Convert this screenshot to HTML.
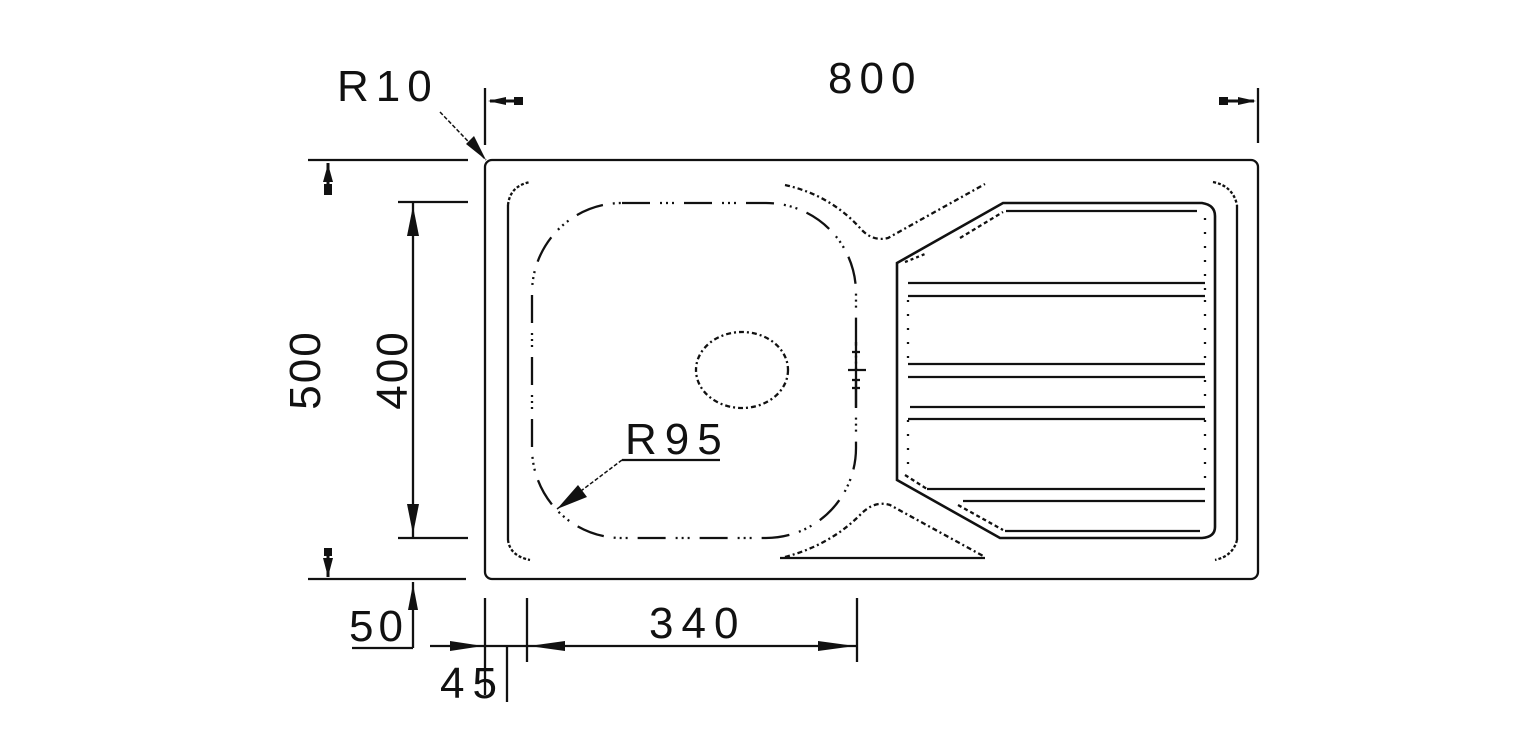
<!DOCTYPE html>
<html><head><style>html,body{margin:0;padding:0;background:#fff}svg{display:block}</style></head>
<body>
<svg width="1522" height="744" viewBox="0 0 1522 744" xmlns="http://www.w3.org/2000/svg" font-family="Liberation Sans, Arial, sans-serif" fill="none" stroke="#111" stroke-width="2.3">
<!-- text -->
<g fill="#111" stroke="none" font-size="44">
<text x="337" y="101" letter-spacing="7">R10</text>
<text x="828" y="93" letter-spacing="7">800</text>
<text x="625" y="454" letter-spacing="8">R95</text>
<text x="649" y="638" letter-spacing="8">340</text>
<text x="349" y="641" letter-spacing="5">50</text>
<text x="440" y="698" letter-spacing="8">45</text>
<text transform="translate(320,370) rotate(-90)" text-anchor="middle" letter-spacing="2">500</text>
<text transform="translate(407,370) rotate(-90)" text-anchor="middle" letter-spacing="2">400</text>
</g>
<!-- 800 dim -->
<line x1="485" y1="88" x2="485" y2="145"/>
<line x1="1258" y1="88" x2="1258" y2="143"/>
<line x1="490" y1="101" x2="522" y2="101" stroke-width="3"/>
<polygon points="488,101 506,97 506,105" fill="#111" stroke="none"/>
<rect x="514" y="97" width="9" height="8" fill="#111" stroke="none"/>
<line x1="1220" y1="101" x2="1254" y2="101" stroke-width="3"/>
<polygon points="1256,101 1238,97 1238,105" fill="#111" stroke="none"/>
<rect x="1219" y="97" width="9" height="8" fill="#111" stroke="none"/>
<!-- R10 leader -->
<line x1="440" y1="112" x2="486" y2="160" stroke-width="1.5" stroke-dasharray="4,2"/>
<polygon points="486,160 466,144 474,136" fill="#111" stroke="none"/>
<!-- left dims -->
<line x1="308" y1="160" x2="468" y2="160"/>
<line x1="308" y1="579" x2="466" y2="579"/>
<line x1="398" y1="202" x2="468" y2="202"/>
<line x1="398" y1="538" x2="468" y2="538"/>
<line x1="413" y1="202" x2="413" y2="538"/>
<polygon points="413,206 407,236 419,236" fill="#111" stroke="none"/>
<polygon points="413,534 407,504 419,504" fill="#111" stroke="none"/>
<line x1="328" y1="163" x2="328" y2="195" stroke-width="3"/>
<polygon points="328,164 323,182 333,182" fill="#111" stroke="none"/>
<rect x="324" y="184" width="8" height="11" fill="#111" stroke="none"/>
<line x1="328" y1="548" x2="328" y2="577" stroke-width="3"/>
<polygon points="328,577 323,558 333,558" fill="#111" stroke="none"/>
<rect x="324" y="548" width="8" height="8" fill="#111" stroke="none"/>
<line x1="413" y1="582" x2="413" y2="648"/>
<polygon points="413,584 408,610 418,610" fill="#111" stroke="none"/>
<line x1="352" y1="648" x2="413" y2="648"/>
<!-- bottom dims -->
<line x1="485" y1="598" x2="485" y2="695"/>
<line x1="507" y1="645" x2="507" y2="702"/>
<line x1="527" y1="598" x2="527" y2="662"/>
<line x1="857" y1="598" x2="857" y2="662"/>
<line x1="430" y1="646" x2="857" y2="646"/>
<polygon points="483,646 450,641 450,651" fill="#111" stroke="none"/>
<polygon points="529,646 565,641 565,651" fill="#111" stroke="none"/>
<polygon points="855,646 818,641 818,651" fill="#111" stroke="none"/>
<!-- outer rect -->
<rect x="485" y="160" width="773" height="419" rx="7"/>
<!-- inner border -->
<path d="M508,205 L508,540"/>
<path d="M508,205 Q510,186 530,182 M508,540 Q510,556 530,560" stroke-dasharray="3,2"/>
<path d="M1237,205 L1237,540"/>
<path d="M1213,182 Q1233,186 1237,205 M1237,540 Q1233,556 1215,560" stroke-dasharray="3,2"/>
<!-- bowl -->
<rect x="532" y="203" width="324" height="335" rx="90" stroke-dasharray="28,10,2,4,2,4,2,10"/>
<ellipse cx="742" cy="370" rx="46" ry="38" stroke-dasharray="5,3,2,3"/>
<line x1="856" y1="342" x2="856" y2="408"/>
<line x1="848" y1="370" x2="866" y2="370"/>
<line x1="852" y1="352" x2="860" y2="352"/>
<line x1="852" y1="380" x2="860" y2="380"/>
<line x1="852" y1="388" x2="860" y2="388"/>
<!-- R95 leader -->
<line x1="622" y1="460" x2="720" y2="460"/>
<line x1="622" y1="460" x2="557" y2="509" stroke-dasharray="4,2" stroke-width="1.5"/>
<polygon points="557,509 578,485 587,497" fill="#111" stroke="none"/>
<!-- bridge top -->
<path d="M785,185 Q830,195 860,228 Q872,242 888,238 L985,184" stroke-dasharray="5,3,2,3"/>
<!-- bridge bottom -->
<path d="M785,557 Q830,545 860,515 Q874,500 890,505 L985,557" stroke-dasharray="5,3,2,3"/>
<line x1="780" y1="558" x2="985" y2="558"/>
<!-- drainboard -->
<path d="M897,480 L897,263 L1003,203 L1202,203 Q1215,205 1215,216 L1215,527 Q1215,537 1202,538 L1000,538 Z" stroke-width="2.6"/>
<line x1="1006" y1="211" x2="1197" y2="211"/>
<path d="M960,238 L1003,212" stroke-dasharray="4,3"/>
<path d="M905,262 L925,254" stroke-dasharray="3,3"/>
<line x1="908" y1="283" x2="1205" y2="283"/>
<line x1="908" y1="296" x2="1205" y2="296"/>
<line x1="908" y1="364" x2="1205" y2="364"/>
<line x1="908" y1="377" x2="1205" y2="377"/>
<line x1="910" y1="407" x2="1205" y2="407"/>
<line x1="908" y1="419" x2="1205" y2="419"/>
<line x1="927" y1="489" x2="1205" y2="489"/>
<line x1="963" y1="501" x2="1205" y2="501"/>
<line x1="1005" y1="531" x2="1200" y2="531"/>
<path d="M905,475 L927,489 M958,505 L1003,530" stroke-dasharray="4,3"/>
<path d="M1205,218 L1205,290 M1205,300 L1205,360 M1205,380 L1205,405 M1205,420 L1205,485 M908,300 L908,360 M908,420 L908,475" stroke-dasharray="2,12"/>
</svg>
</body></html>
